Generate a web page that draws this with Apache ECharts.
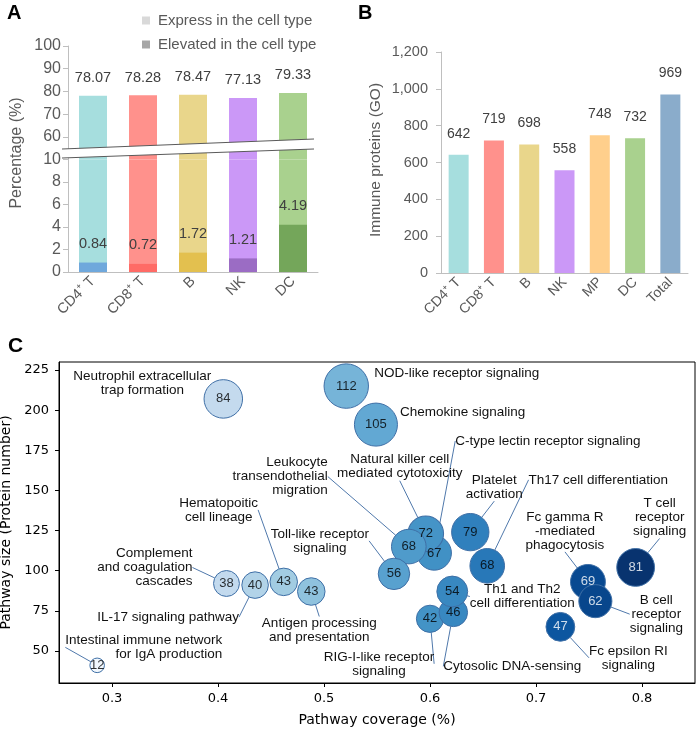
<!DOCTYPE html>
<html>
<head>
<meta charset="utf-8">
<script src="https://cdn.jsdelivr.net/npm/echarts@6/dist/echarts.min.js"></script>
<style>
html, body { margin: 0; padding: 0; background: #fff; }
#main { width: 698px; height: 729px; }
</style>
</head>
<body>
<div id="main"></div>
<script>
// ---- A: percentage per cell type
var cellsA = ['CD4⁺ T', 'CD8⁺ T', 'B', 'NK', 'DC'];
var expressA = [78.07, 78.28, 78.47, 77.13, 79.33];
var elevatedA = [0.84, 0.72, 1.72, 1.21, 4.19];

// ---- B: immune proteins (GO)
var cellsB = ['CD4⁺ T', 'CD8⁺ T', 'B', 'NK', 'MP', 'DC', 'Total'];
var immuneB = [642, 719, 698, 558, 748, 732, 969];

// ---- C: pathways
var pathNames = [
    'Neutrophil extracellular\ntrap formation',
    'NOD-like receptor signaling',
    'Chemokine signaling',
    'C-type lectin receptor signaling',
    'Natural killer cell\nmediated cytotoxicity',
    'Leukocyte\ntransendothelial\nmigration',
    'Hematopoitic\ncell lineage',
    'Toll-like receptor\nsignaling',
    'Complement\nand coagulation\ncascades',
    'IL-17 signaling pathway',
    'Antigen processing\nand presentation',
    'Intestinal immune network\nfor IgA production',
    'RIG-I-like receptor\nsignaling',
    'Cytosolic DNA-sensing',
    'Th1 and Th2\ncell differentiation',
    'Platelet\nactivation',
    'Th17 cell differentiation',
    'Fc gamma R\n-mediated\nphagocytosis',
    'T cell\nreceptor\nsignaling',
    'B cell\nreceptor\nsignaling',
    'Fc epsilon RI\nsignaling'
];
var coverage = [0.405, 0.521, 0.549, 0.604, 0.596, 0.580, 0.462, 0.566, 0.408, 0.435, 0.488,
    0.286, 0.600, 0.622, 0.621, 0.638, 0.654, 0.749, 0.794, 0.756, 0.723];
var pathSize = [207, 215, 191, 111, 123, 115, 93, 98, 92, 91, 87,
    41, 70, 74, 87, 124, 103, 93, 102, 81, 65];
var proteinNum = [84, 112, 105, 67, 72, 68, 43, 56, 38, 40, 43,
    12, 42, 46, 54, 79, 68, 69, 81, 62, 47];
var ticksXC = [0.3, 0.4, 0.5, 0.6, 0.7, 0.8];
var ticksYC = [50, 75, 100, 125, 150, 175, 200, 225];

// colours
var lightA = ['#a6dede', '#ff918c', '#e9d68b', '#cb98f7', '#a9d18e'];
var darkA = ['#6fa8dc', '#ff6b66', '#e3c04f', '#9b6cc4', '#74a65a'];
var colorsB = ['#a6dede', '#ff918c', '#e9d68b', '#cb98f7', '#ffcf8c', '#a9d18e', '#8aaccb'];
var blues = ['#f7fbff', '#deebf7', '#c6dbef', '#9ecae1', '#6baed6', '#4292c6', '#2171b5', '#08519c', '#08306b'];

// label offsets from bubble centre [dx, dy, align]
var nameOffsets = [
    [-81, -16, 'center'], [28, -13, 'left'], [24, -12, 'left'], [21, -112, 'left'],
    [-26, -67, 'center'], [-81, -70, 'right'], [-65, -72, 'center'], [-74, -33, 'center'],
    [-34, -16, 'right'], [-87, 32, 'center'], [8, 39, 'center'], [125, -18, 'right'],
    [-51, 45, 'center'], [59, 54, 'center'], [70, 5, 'center'], [24, -45, 'center'],
    [111, -86, 'center'], [-23, -51, 'center'], [24, -50, 'center'], [61, 13, 'center'],
    [68, 31, 'center']
];
var noLine = [0, 1, 2];

var gray = '#595959';
var axisGray = '#bfbfbf';
var fontA = 'Liberation Sans, Arial, sans-serif';
var fontC = 'DejaVu Sans, sans-serif';

var bubbleData = coverage.map(function (c, i) {
    return {
        name: pathNames[i],
        value: [c, pathSize[i], proteinNum[i]],
        labelLine: { show: noLine.indexOf(i) < 0 }
    };
});
var numberData = coverage.map(function (c, i) {
    return {
        value: [c, pathSize[i], proteinNum[i]],
        label: { color: c > 0.7 ? '#fff' : '#000' }
    };
});

function bubbleSize(v) { return 4.2 * Math.sqrt(v[2]); }

var myChart = echarts.init(document.getElementById('main'));
myChart.setOption({
    animation: false,
    textStyle: { fontFamily: fontA },
    graphic: [
        { type: 'text', left: 7, top: 3, style: { text: 'A', font: 'bold 20px Liberation Sans, Arial', fill: '#000' } },
        { type: 'text', left: 358, top: 3, style: { text: 'B', font: 'bold 20px Liberation Sans, Arial', fill: '#000' } },
        { type: 'text', left: 8, top: 336, style: { text: 'C', font: 'bold 21px Liberation Sans, Arial', fill: '#000' } },
        { type: 'text', x: 17, y: 153, rotation: Math.PI / 2,
          style: { text: 'Percentage (%)', font: '16px Liberation Sans, Arial', fill: gray, align: 'center', verticalAlign: 'middle' } },
        { type: 'text', x: 376, y: 160, rotation: Math.PI / 2,
          style: { text: 'Immune proteins (GO)', font: '15.5px Liberation Sans, Arial', fill: gray, align: 'center', verticalAlign: 'middle' } },
        // axis break
        { type: 'polygon', z: 100, shape: { points: [[62, 149], [314, 139], [314, 149], [62, 158]] }, style: { fill: '#fff' } },
        { type: 'line', z: 101, shape: { x1: 62, y1: 149, x2: 314, y2: 139 }, style: { stroke: '#5a5a5a', lineWidth: 1.2 } },
        { type: 'line', z: 101, shape: { x1: 62, y1: 158, x2: 314, y2: 149 }, style: { stroke: '#5a5a5a', lineWidth: 1.2 } }
    ],
    legend: {
        left: 137, top: 8, orient: 'vertical',
        itemWidth: 14, itemHeight: 8, itemGap: 9,
        icon: 'path://M0,0h8v8h-8z',
        textStyle: { fontSize: 15, color: gray, fontFamily: fontA },
        selectedMode: false,
        data: [
            { name: 'Express in the cell type', itemStyle: { color: '#d9d9d9' } },
            { name: 'Elevated in the cell type', itemStyle: { color: '#a6a6a6' } }
        ]
    },
    grid: [
        { left: 68, top: 46, width: 250, height: 113.5, outerBoundsMode: 'none' },
        { left: 68, top: 159.5, width: 250, height: 112.5, outerBoundsMode: 'none' },
        { left: 441, top: 52, width: 247, height: 221, outerBoundsMode: 'none' },
        { left: 59, top: 362, width: 636, height: 321, show: true, borderColor: '#000', borderWidth: 1,
          outerBoundsMode: 'none' }
    ],
    xAxis: [
        { gridIndex: 0, type: 'category', data: cellsA, show: false },
        {
            gridIndex: 1, type: 'category', data: cellsA,
            axisLine: { lineStyle: { color: axisGray } },
            axisTick: { show: false },
            axisLabel: { rotate: 45, fontSize: 14.5, color: gray, margin: 7 }
        },
        {
            gridIndex: 2, type: 'category', data: cellsB,
            axisLine: { lineStyle: { color: axisGray } },
            axisTick: { show: false },
            axisLabel: { rotate: 45, fontSize: 14, color: gray, margin: 7 }
        },
        {
            gridIndex: 3, type: 'value', min: 0.25, max: 0.85,
            name: 'Pathway coverage (%)', nameLocation: 'middle', nameGap: 30,
            nameTextStyle: { fontSize: 14, color: '#000', fontFamily: fontC },
            splitLine: { show: false },
            axisLine: { lineStyle: { color: '#000' } },
            axisTick: { length: 4, lineStyle: { color: '#000' }, customValues: ticksXC },
            axisLabel: { fontSize: 13, color: '#000', fontFamily: fontC, margin: 9, customValues: ticksXC,
                formatter: function (v) { return v.toFixed(1); } }
        }
    ],
    yAxis: [
        {
            gridIndex: 0, type: 'value', min: 50, max: 100, interval: 10,
            splitLine: { show: false },
            axisLine: { show: true, lineStyle: { color: axisGray } },
            axisTick: { show: true, length: 5, lineStyle: { color: axisGray } },
            axisLabel: { fontSize: 16, color: gray, margin: 7, showMinLabel: false }
        },
        {
            gridIndex: 1, type: 'value', min: 0, max: 10, interval: 2,
            splitLine: { show: false },
            axisLine: { show: true, lineStyle: { color: axisGray } },
            axisTick: { show: true, length: 5, lineStyle: { color: axisGray } },
            axisLabel: { fontSize: 16, color: gray, margin: 7 }
        },
        {
            gridIndex: 2, type: 'value', min: 0, max: 1200, interval: 200,
            splitLine: { show: false },
            axisLine: { show: true, lineStyle: { color: axisGray } },
            axisTick: { show: true, length: 5, lineStyle: { color: axisGray } },
            axisLabel: { fontSize: 14.5, color: gray, margin: 13,
                formatter: function (v) { return v.toLocaleString('en-US'); } }
        },
        {
            gridIndex: 3, type: 'value', min: 30, max: 230,
            name: 'Pathway size (Protein number)', nameLocation: 'middle', nameGap: 41,
            nameTextStyle: { fontSize: 14, color: '#000', fontFamily: fontC },
            splitLine: { show: false },
            axisLine: { lineStyle: { color: '#000' } },
            axisTick: { length: 4, lineStyle: { color: '#000' }, customValues: ticksYC },
            axisLabel: { fontSize: 13, color: '#000', fontFamily: fontC, margin: 10, customValues: ticksYC }
        }
    ],
    visualMap: {
        show: false, type: 'continuous', seriesIndex: 4, dimension: 0,
        min: 0.27, max: 0.8, inRange: { color: blues }
    },
    series: [
        {
            type: 'bar', xAxisIndex: 0, yAxisIndex: 0, barWidth: 28,
            data: expressA,
            itemStyle: { color: function (p) { return lightA[p.dataIndex]; } },
            label: { show: true, position: 'top', distance: 10, fontSize: 14.5, color: '#404040' }
        },
        {
            name: 'Express in the cell type',
            type: 'bar', xAxisIndex: 1, yAxisIndex: 1, barWidth: 28,
            data: expressA,
            itemStyle: { color: function (p) { return lightA[p.dataIndex]; } }
        },
        {
            name: 'Elevated in the cell type',
            type: 'bar', xAxisIndex: 1, yAxisIndex: 1, barWidth: 28, barGap: '-100%',
            data: elevatedA,
            itemStyle: { color: function (p) { return darkA[p.dataIndex]; } },
            label: { show: true, position: 'top', distance: 11, fontSize: 14.5, color: '#404040' }
        },
        {
            type: 'bar', xAxisIndex: 2, yAxisIndex: 2, barWidth: 20,
            data: immuneB,
            itemStyle: { color: function (p) { return colorsB[p.dataIndex]; } },
            label: { show: true, position: 'top', distance: 14, fontSize: 14, color: '#404040' }
        },
        {
            type: 'scatter', xAxisIndex: 3, yAxisIndex: 3,
            data: bubbleData,
            symbolSize: bubbleSize,
            itemStyle: { borderColor: '#3f6fa6', borderWidth: 1, opacity: 1 },
            label: {
                show: true, position: 'inside',
                formatter: function (p) { return p.name; },
                fontSize: 13.5, lineHeight: 14, color: '#111', fontFamily: fontA
            },
            labelLine: { show: true, lineStyle: { color: '#4f78ab', width: 1 } },
            labelLayout: function (p) {
                var o = nameOffsets[p.dataIndex];
                return {
                    x: p.rect.x + p.rect.width / 2 + o[0],
                    y: p.rect.y + p.rect.height / 2 + o[1],
                    align: o[2], verticalAlign: 'middle'
                };
            }
        },
        {
            type: 'scatter', xAxisIndex: 3, yAxisIndex: 3, z: 5, silent: true,
            data: numberData,
            symbolSize: bubbleSize,
            itemStyle: { color: 'rgba(0,0,0,0)' },
            label: {
                show: true, position: 'inside',
                formatter: function (p) { return p.value[2]; },
                fontSize: 13, fontFamily: fontA
            }
        }
    ]
});
</script>
</body>
</html>
